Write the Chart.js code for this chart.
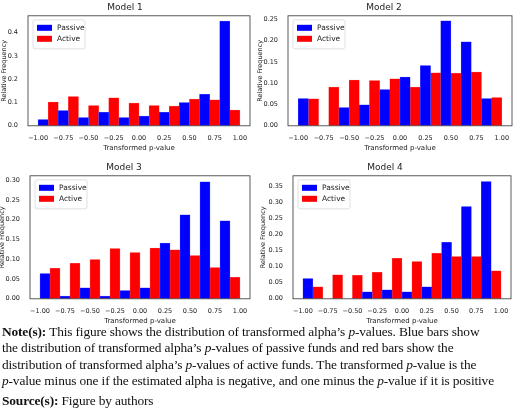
<!DOCTYPE html>
<html><head><meta charset="utf-8">
<script src="https://cdn.jsdelivr.net/npm/chart.js@4"></script>
<style>
body{margin:0;width:520px;height:411px;background:#fff;position:relative;overflow:hidden}
.c{position:absolute}
#note{position:absolute;left:2px;top:324px;width:520px;font-family:"Liberation Serif",serif;font-size:13.4px;line-height:16.4px;color:#111;white-space:nowrap;letter-spacing:-0.15px}
</style></head><body>
<div class="c" style="left:0;top:0;width:252px;height:152px"><canvas id="m1"></canvas></div>
<div class="c" style="left:256px;top:0;width:258px;height:152px"><canvas id="m2"></canvas></div>
<div class="c" style="left:-2px;top:160px;width:254px;height:165px"><canvas id="m3"></canvas></div>
<div class="c" style="left:259px;top:160px;width:254px;height:165px"><canvas id="m4"></canvas></div>
<div id="note"><b>Note(s):</b> This figure shows the distribution of transformed alpha’s <i>p</i>-values. Blue bars show<br>the distribution of transformed alpha’s <i>p</i>-values of passive funds and red bars show the<br>distribution of transformed alpha’s <i>p</i>-values of active funds. The transformed <i>p</i>-value is the<br><i>p</i>-value minus one if the estimated alpha is negative, and one minus the <i>p</i>-value if it is positive<div style="margin-top:3px"><b>Source(s):</b> Figure by authors</div></div>
<script>
const binCenters=[-0.9,-0.7,-0.5,-0.3,-0.1,0.1,0.3,0.5,0.7,0.9];
const xTicks=[-1,-0.75,-0.5,-0.25,0,0.25,0.5,0.75,1];
const m1Passive=[0.027,0.065,0.035,0.058,0.035,0.042,0.058,0.10,0.135,0.45];
const m1Active=[0.102,0.125,0.087,0.12,0.098,0.087,0.085,0.115,0.112,0.067];
const m2Passive=[0.064,0,0.043,0.049,0.085,0.114,0.141,0.246,0.197,0.064];
const m2Active=[0.063,0.091,0.107,0.106,0.110,0.091,0.124,0.123,0.126,0.066];
const m3Passive=[0.064,0.007,0.028,0.007,0.021,0.028,0.141,0.212,0.296,0.197];
const m3Active=[0.077,0.090,0.099,0.127,0.117,0.128,0.124,0.109,0.079,0.054];
const m4Passive=[0.063,0,0,0.022,0.028,0.022,0.037,0.176,0.288,0.366];
const m4Active=[0.037,0.075,0.073,0.083,0.126,0.116,0.142,0.132,0.132,0.087];
const FONT="DejaVu Sans";
const fmt=v=>(v<0?'\u2212':'')+Math.abs(v).toFixed(2);
const frame={id:'frame',afterDraw(c){const a=c.chartArea,x=c.ctx;x.save();x.strokeStyle='#333';x.lineWidth=0.8;x.strokeRect(a.left,a.top,a.right-a.left,a.bottom-a.top);
 const lx=a.left+5,ly=a.top+4;x.fillStyle='#fff';x.strokeStyle='#ccc';x.lineWidth=0.6;x.beginPath();x.roundRect(lx,ly,52,29,2);x.fill();x.stroke();
 const items=[['Passive','#0000ff'],['Active','#ff0000']];x.font='7.5px '+FONT;x.textBaseline='middle';
 items.forEach((it,i)=>{const yy=ly+8+i*11;x.fillStyle=it[1];x.fillRect(lx+4,yy-3,15,6);x.fillStyle='#222';x.fillText(it[0],lx+24,yy);});
 x.restore();}};
function make(id,title,p,a,max,step,dec,yw){
 new Chart(document.getElementById(id),{type:'bar',
 data:{datasets:[
  {label:'Passive',data:binCenters.map((c,i)=>({x:c,y:p[i]})),backgroundColor:'#0000ff',borderColor:'#4d4dff',borderWidth:0.5},
  {label:'Active',data:binCenters.map((c,i)=>({x:c,y:a[i]})),backgroundColor:'#ff0000',borderColor:'#ff5050',borderWidth:0.5}]},
 options:{responsive:true,maintainAspectRatio:false,animation:false,
  layout:{padding:{top:0,right:2,bottom:0,left:0}},
  plugins:{legend:{display:false},tooltip:{enabled:false},
   title:{display:true,text:title,color:'#222',font:{family:FONT,size:9,weight:'normal'},padding:{top:2,bottom:3}}},
  datasets:{bar:{categoryPercentage:1,barPercentage:1,grouped:true}},
  scales:{
   x:{type:'linear',min:-1.1,max:1.1,offset:false,grid:{display:false},border:{display:false},
    afterBuildTicks:s=>{s.ticks=xTicks.map(v=>({value:v}));},
    ticks:{callback:v=>fmt(v),color:'#222',font:{family:FONT,size:6.5},maxRotation:0,autoSkip:false,padding:1},
    title:{display:true,text:'Transformed p-value',color:'#222',font:{family:FONT,size:7},padding:{top:0,bottom:0}}},
   y:{min:0,max:max,grid:{display:false},border:{display:false},
    afterBuildTicks:s=>{const t=[];for(let v=0;v<=max+1e-9;v+=step)t.push({value:+v.toFixed(3)});s.ticks=t;},
    ticks:{callback:v=>v.toFixed(dec),color:'#222',font:{family:FONT,size:6.5},padding:2},
    afterFit:s=>{s.width=yw;},
    title:{display:true,text:'Relative Frequency',color:'#222',font:{family:FONT,size:6.5},padding:{top:0,bottom:1}}}}},
 plugins:[frame]});
}
make('m1','Model 1',m1Passive,m1Active,0.4725,0.1,1,28);
make('m2','Model 2',m2Passive,m2Active,0.258,0.05,2,32);
make('m3','Model 3',m3Passive,m3Active,0.311,0.05,2,32);
make('m4','Model 4',m4Passive,m4Active,0.384,0.05,2,34);
</script></body></html>
